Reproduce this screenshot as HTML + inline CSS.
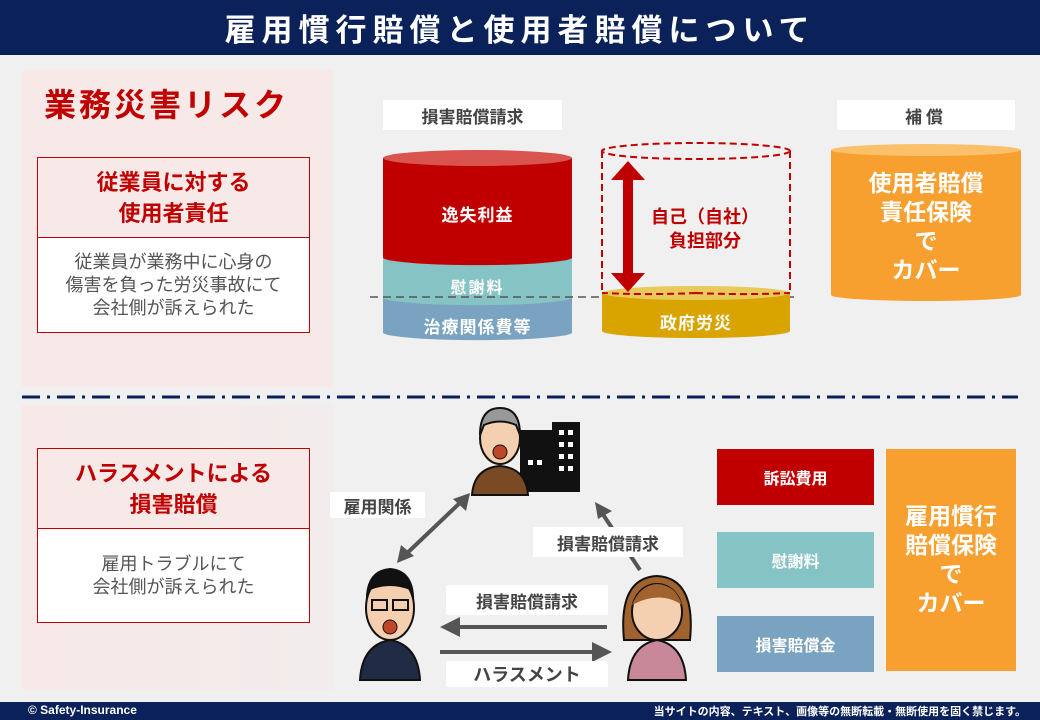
<!DOCTYPE html>
<html><head><meta charset="utf-8"><style>
*{margin:0;padding:0;box-sizing:border-box}
body{width:1040px;height:720px;background:#f0f0f0;position:relative;overflow:hidden;font-family:"Liberation Sans","Noto Sans CJK JP",sans-serif}
.a{position:absolute}
.c{display:flex;align-items:center;justify-content:center;text-align:center}
.b{font-weight:bold}
</style></head><body>
<div class="a c b" style="left:0;top:0;width:1040px;height:55px;background:#0a215a;color:#fff;font-size:31px;letter-spacing:6px">雇用慣行賠償と使用者賠償について</div>
<div class="a" style="left:22px;top:70px;width:311px;height:317px;background:#f7e9e7"></div>
<div class="a" style="left:22px;top:405px;width:311px;height:285px;background:linear-gradient(90deg,#f7e9e7,#f2ecec)"></div>
<div class="a b" style="left:44px;top:80px;color:#c00000;font-size:32px;letter-spacing:3px">業務災害リスク</div>

<div class="a" style="left:37px;top:157px;width:273px;height:176px;border:1px solid #c00000;background:#fff"></div>
<div class="a c b" style="left:38px;top:158px;width:271px;height:80px;background:#f7e9e7;border-bottom:1px solid #c00000;color:#c00000;font-size:22px;line-height:31px">従業員に対する<br>使用者責任</div>
<div class="a c" style="left:38px;top:239px;width:271px;height:93px;color:#555;font-size:18px;line-height:23px">従業員が業務中に心身の<br>傷害を負った労災事故にて<br>会社側が訴えられた</div>

<div class="a" style="left:37px;top:448px;width:273px;height:175px;border:1px solid #c00000;background:#fff"></div>
<div class="a c b" style="left:38px;top:449px;width:271px;height:80px;background:#f7e9e7;border-bottom:1px solid #c00000;color:#c00000;font-size:22px;line-height:31px">ハラスメントによる<br>損害賠償</div>
<div class="a c" style="left:38px;top:530px;width:271px;height:92px;color:#555;font-size:18px;line-height:23px">雇用トラブルにて<br>会社側が訴えられた</div>

<div class="a c b" style="left:383px;top:100px;width:179px;height:30px;background:#fff;color:#444;font-size:17px">損害賠償請求</div>
<div class="a c b" style="left:837px;top:100px;width:178px;height:30px;background:#fff;color:#444;font-size:17px;letter-spacing:4px">補償</div>

<svg class="a" style="left:0;top:0" width="1040" height="720">
<path d="M383,298 L383,333 A95,8 0 0 0 572,333 L572,298 Z" fill="#7aa2c1"/>
<path d="M383,258 L383,298 A95,8 0 0 0 572,298 L572,258 Z" fill="#86c3c4"/>
<path d="M383,158 L383,258 A95,8 0 0 0 572,258 L572,158 Z" fill="#c00000"/>
<ellipse cx="477.5" cy="158" rx="94.5" ry="8" fill="#d9534f"/>
<line x1="370" y1="297" x2="797" y2="297" stroke="#555" stroke-width="1.5" stroke-dasharray="8,5"/>
<path d="M602,293 L602,331 A94,7 0 0 0 790,331 L790,293 Z" fill="#d9a300"/>
<ellipse cx="696" cy="293" rx="94" ry="7" fill="#e9c95a"/>
<path d="M602,151 L602,293 M790,151 L790,293" stroke="#c00000" stroke-width="2" stroke-dasharray="7,4" fill="none"/>
<ellipse cx="696" cy="151" rx="94" ry="8" fill="none" stroke="#c00000" stroke-width="2" stroke-dasharray="7,4"/>
<path d="M696,293 A94,8 0 0 1 602,293 M696,293 A94,8 0 0 0 790,293" fill="none" stroke="#c00000" stroke-width="2" stroke-dasharray="7,4"/>
<polygon points="628,161 645,180 633,180 633,273 645,273 628,292 611,273 623,273 623,180 611,180" fill="#c00000"/>
<path d="M831,150 L831,295 A95,6 0 0 0 1021,295 L1021,150 Z" fill="#f7a030"/>
<ellipse cx="926" cy="150" rx="95" ry="6" fill="#fbc06a"/>
<line x1="22" y1="397" x2="1018" y2="397" stroke="#0a215a" stroke-width="3" stroke-dasharray="18,7,3,7"/>
<g stroke="#555" stroke-width="4" fill="#555">
<line x1="402" y1="558" x2="465" y2="498"/>
<line x1="640" y1="570" x2="600" y2="510"/>
<line x1="450" y1="627" x2="607" y2="627"/>
<line x1="440" y1="652" x2="600" y2="652"/>
</g>
<polygon points="397,563 401,545 414,556" fill="#555"/>
<polygon points="470,493 466,511 453,499" fill="#555"/>
<polygon points="595,502 612,511 598,519" fill="#555"/>
<polygon points="440,627 460,617 460,637" fill="#555"/>
<polygon points="612,652 592,642 592,662" fill="#555"/>
<rect x="520" y="430" width="40" height="62" fill="#111"/>
<rect x="552" y="422" width="28" height="70" fill="#111"/>
<g fill="#fff"><rect x="559" y="430" width="5" height="5"/><rect x="568" y="430" width="5" height="5"/><rect x="559" y="442" width="5" height="5"/><rect x="568" y="442" width="5" height="5"/><rect x="559" y="454" width="5" height="5"/><rect x="568" y="454" width="5" height="5"/><rect x="559" y="466" width="5" height="5"/><rect x="568" y="466" width="5" height="5"/><rect x="528" y="460" width="5" height="5"/><rect x="537" y="460" width="5" height="5"/></g>
<path d="M472,495 Q474,468 500,466 Q526,468 528,495 Z" fill="#7a4a25" stroke="#111" stroke-width="2"/>
<ellipse cx="500" cy="438" rx="20" ry="26" fill="#f5d0b0" stroke="#111" stroke-width="2"/>
<path d="M480,435 Q480,408 500,408 Q520,408 520,435 L516,425 Q500,418 484,425 Z" fill="#999" stroke="#111" stroke-width="2"/>
<ellipse cx="500" cy="452" rx="7" ry="7" fill="#c0462a" stroke="#111"/>
<path d="M360,680 Q362,645 390,640 Q418,645 420,680 Z" fill="#1f2a44" stroke="#111" stroke-width="2"/>
<ellipse cx="390" cy="608" rx="24" ry="32" fill="#f5d0b0" stroke="#111" stroke-width="2"/>
<path d="M366,605 Q364,570 390,568 Q416,570 414,605 L410,590 Q390,582 370,590 Z" fill="#111"/>
<rect x="372" y="600" width="15" height="10" fill="none" stroke="#111" stroke-width="2"/><rect x="393" y="600" width="15" height="10" fill="none" stroke="#111" stroke-width="2"/>
<ellipse cx="390" cy="627" rx="7" ry="7" fill="#c0462a" stroke="#111"/>
<path d="M628,680 Q630,645 657,640 Q684,645 686,680 Z" fill="#c9879a" stroke="#111" stroke-width="2"/>
<path d="M624,640 Q618,578 657,576 Q696,578 690,640 Z" fill="#a0622e" stroke="#111" stroke-width="2"/>
<ellipse cx="657" cy="612" rx="25" ry="28" fill="#f5d0b0" stroke="#111" stroke-width="2"/>
<path d="M632,605 Q640,585 657,584 Q676,585 682,605 Q660,590 632,605 Z" fill="#a0622e"/>
</svg>

<div class="a c b" style="left:383px;top:199px;width:189px;height:28px;color:#fff;font-size:17px;letter-spacing:1px">逸失利益</div>
<div class="a c b" style="left:383px;top:274px;width:189px;height:24px;color:#fff;font-size:16px;letter-spacing:2px">慰謝料</div>
<div class="a c b" style="left:383px;top:312px;width:189px;height:26px;color:#fff;font-size:17px;letter-spacing:1px">治療関係費等</div>
<div class="a c b" style="left:602px;top:308px;width:188px;height:26px;color:#fff;font-size:17px;letter-spacing:1px">政府労災</div>
<div class="a c b" style="left:645px;top:204px;width:120px;height:50px;color:#c00000;font-size:18px;line-height:24px">自己（自社）<br>負担部分</div>
<div class="a c b" style="left:831px;top:168px;width:190px;height:118px;color:#fff;font-size:23px;line-height:29px">使用者賠償<br>責任保険<br>で<br>カバー</div>

<div class="a c b" style="left:330px;top:492px;width:95px;height:26px;background:#fff;color:#444;font-size:17px">雇用関係</div>
<div class="a c b" style="left:533px;top:527px;width:150px;height:30px;background:#fff;color:#444;font-size:17px">損害賠償請求</div>
<div class="a c b" style="left:446px;top:585px;width:162px;height:30px;background:#fff;color:#444;font-size:17px">損害賠償請求</div>
<div class="a c b" style="left:446px;top:661px;width:162px;height:26px;background:#fff;color:#444;font-size:18px">ハラスメント</div>

<div class="a c b" style="left:717px;top:449px;width:157px;height:56px;background:#c00000;color:#fff;font-size:16px">訴訟費用</div>
<div class="a c b" style="left:717px;top:532px;width:157px;height:56px;background:#86c3c4;color:#fff;font-size:16px">慰謝料</div>
<div class="a c b" style="left:717px;top:616px;width:157px;height:56px;background:#7aa2c1;color:#fff;font-size:16px">損害賠償金</div>
<div class="a c b" style="left:886px;top:449px;width:130px;height:222px;background:#f7a030;color:#fff;font-size:23px;line-height:29px">雇用慣行<br>賠償保険<br>で<br>カバー</div>

<div class="a" style="left:0;top:702px;width:1040px;height:18px;background:#0a215a"></div>
<div class="a b" style="left:28px;top:703px;color:#fff;font-size:12px">© Safety-Insurance</div>
<div class="a b" style="right:14px;top:703px;color:#fff;font-size:11px">当サイトの内容、テキスト、画像等の無断転載・無断使用を固く禁じます。</div>
</body></html>
